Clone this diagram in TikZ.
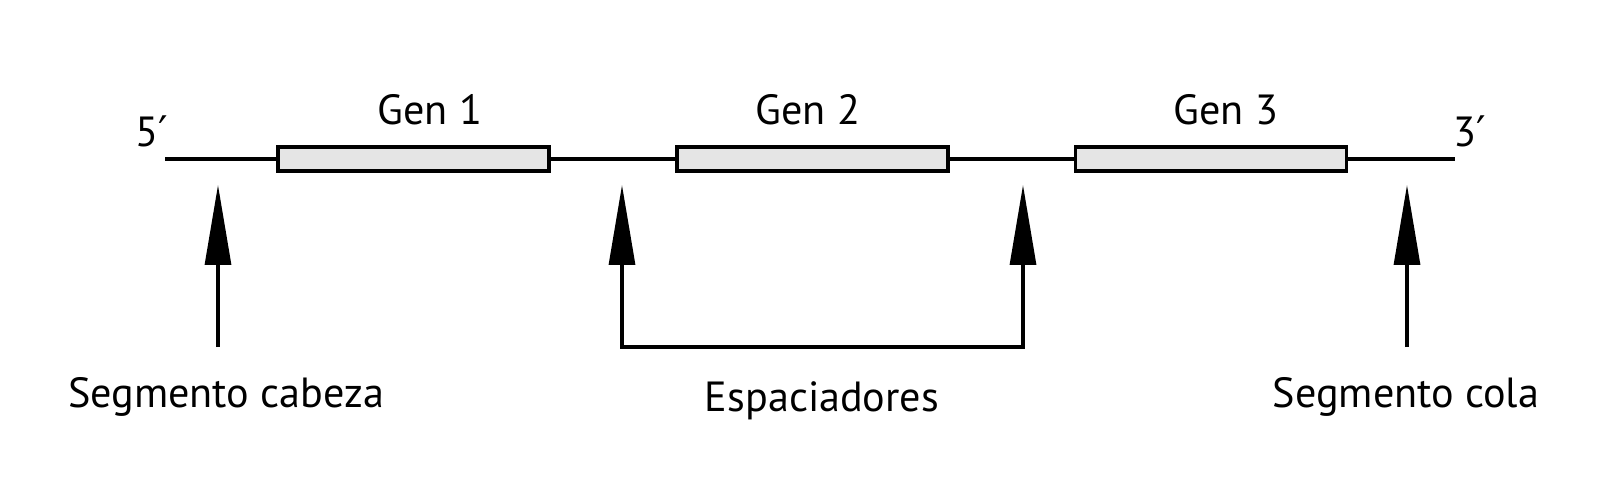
\documentclass[tikz,border=0pt]{standalone}
\usepackage{fontspec}
\setmainfont{PT Sans}
\newfontfamily\primefont{DejaVu Sans}
\newcommand{\primemark}{{\primefont ′}}
\definecolor{GeneFill}{RGB}{229,229,229}
\usetikzlibrary{arrows.meta, positioning}

\begin{document}
\begin{tikzpicture}[
                x=0.02cm, y=-0.02cm,
                gene/.style={rectangle, draw=black, line width=1.8pt, fill=GeneFill, inner sep=0pt, minimum width=5.42cm, minimum height=0.48cm},
                strand/.style={line width=1.8pt},
                pointer/.style={line width=1.8pt, line join=miter, -{Triangle[length=1.6cm, width=0.52cm]}},
                label/.style={anchor=base, inner sep=0pt, font=\fontsize{24}{28}\selectfont}
            ]
                \useasboundingbox (0,0) rectangle (1600,477);

                \node (g1) [gene] at (413.5,159) {};
                \node (g2) [gene] at (812.5,159) {};
                \node (g3) [gene] at (1211,159) {};

                \coordinate (five) at (165,159);
                \coordinate (three) at (1455,159);

                \draw [strand] (five) -- (g1.west);
                \draw [strand] (g1.east) -- (g2.west);
                \draw [strand] (g2.east) -- (g3.west);
                \draw [strand] (g3.east) -- (three);

                \node (t5) [label] at (152,146) {5\primemark};
                \node (t3) [label] at (1470,146) {3\primemark};
                \node (l1) [label] at (430,124) {Gen 1};
                \node (l2) [label] at (808,124) {Gen 2};
                \node (l3) [label] at (1226,124) {Gen 3};

                % arrows under the strand
                \coordinate (headtip) at (218,185);
                \coordinate (headbase) at (218,347);
                \coordinate (sp1) at (622,185);
                \coordinate (sb1) at (622,347);
                \coordinate (sp2) at (1023,185);
                \coordinate (sb2) at (1023,347);
                \coordinate (tailtip) at (1407,185);
                \coordinate (tailbase) at (1407,347);

                \draw [pointer] (headbase) -- (headtip);
                \draw [pointer, {Triangle[length=1.6cm, width=0.52cm]}-{Triangle[length=1.6cm, width=0.52cm]}] (sp1) -- (sb1) -- (sb2) -- (sp2);
                \draw [pointer] (tailbase) -- (tailtip);

                \node (head) [label] at (226,407) {Segmento cabeza};
                \node (spacer) [label] at (822,411) {Espaciadores};
                \node (tail) [label] at (1406,407) {Segmento cola};
            \end{tikzpicture}
\end{document}
